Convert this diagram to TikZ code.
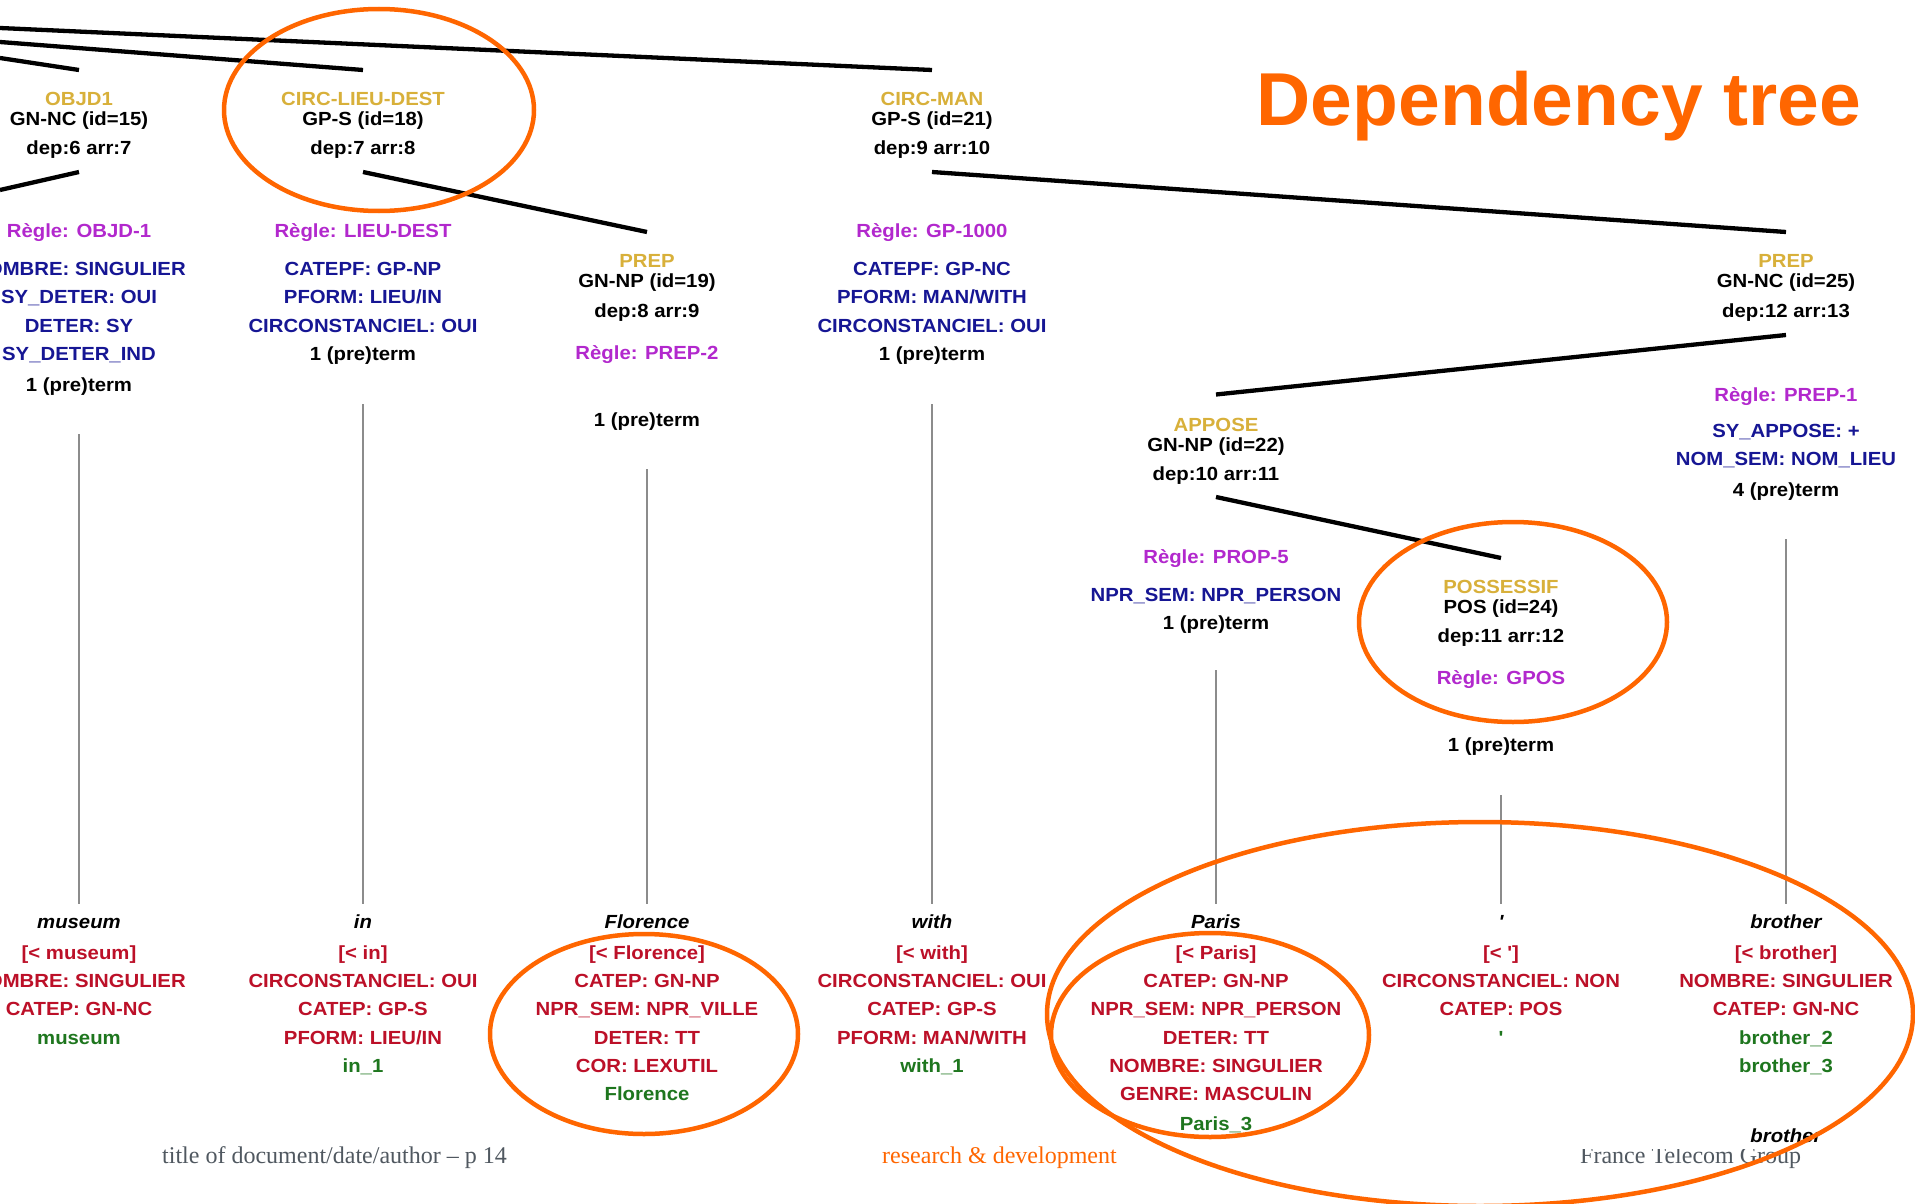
\documentclass[tikz,border=0pt]{standalone}
\usepackage{fontspec}
\newfontfamily\treefont[FakeStretch=1.07]{Liberation Sans}
\newfontfamily\titlefont{Liberation Sans}
\newfontfamily\footfont{Liberation Serif}
\definecolor{ylw}{RGB}{216,176,58}
\definecolor{mag}{RGB}{178,40,205}
\definecolor{blu}{RGB}{22,22,148}
\definecolor{redd}{RGB}{188,16,40}
\definecolor{grn}{RGB}{30,118,30}
\definecolor{orng}{RGB}{255,102,0}
\definecolor{gline}{RGB}{140,140,140}
\definecolor{footgray}{RGB}{80,88,96}
\tikzset{
  sTx/.style={inner sep=0pt, text height=13.6pt, text depth=0pt,
    font=\treefont\bfseries\fontsize{19}{23}\selectfont},
  sLab/.style={sTx, text=ylw},
  sCat/.style={sTx, text=black},
  sRul/.style={sTx, text=mag},
  sAtt/.style={sTx, text=blu},
  sWrd/.style={sTx, text=black, font=\treefont\bfseries\itshape\fontsize{19}{23}\selectfont},
  sLex/.style={sTx, text=redd},
  sGrn/.style={sTx, text=grn},
  sEdge/.style={line width=4.3pt, draw=black},
  sStem/.style={line width=1.4pt, draw=gline},
  sRing/.style={draw=orng, line width=4.5pt},
  sFoot/.style={anchor=base west, inner sep=0pt, font=\footfont\fontsize{24}{28}\selectfont},
}
\begin{document}
\begin{tikzpicture}[x=1pt,y=-1pt]
\useasboundingbox (0,0) rectangle (1915,1204);
\fill[white] (0,0) rectangle (1915,1204);
\clip (0,0) rectangle (1915,1204);

% title
\node[anchor=base, inner sep=0pt, text=orng, font=\titlefont\bfseries\fontsize{75}{80}\selectfont] (title) at (1559,126) {Dependency tree};

% footer
\node[sFoot, text=footgray] (foot1) at (162,1163) {title of document/date/author \textendash{} p 14};
\node[sFoot, text=orng] (foot2) at (882,1163) {research \& development};
\node[sFoot, text=footgray] (foot3) at (1580,1163) {France Telecom Group};
\fill[white] (1560,1120) rectangle (1915,1149);

% edge end points
\coordinate (L1) at (0,28);
\coordinate (L2) at (0,42);
\coordinate (L3) at (0,58);
\coordinate (L4) at (0,190);
\coordinate (t1) at (79,70);   \coordinate (u1) at (79,172);
\coordinate (t2) at (363,70);  \coordinate (u2) at (363,172);
\coordinate (t3) at (647,232);
\coordinate (t4) at (932,70);  \coordinate (u4) at (932,172);
\coordinate (t5) at (1216,394.5); \coordinate (u5) at (1216,497);
\coordinate (t6) at (1501,558);
\coordinate (t7) at (1786,232); \coordinate (u7) at (1786,335);

\draw[sEdge] (L1) -- (t4);
\draw[sEdge] (L2) -- (t2);
\draw[sEdge] (L3) -- (t1);
\draw[sEdge] (u1) -- (L4);
\draw[sEdge] (u2) -- (t3);
\draw[sEdge] (u4) -- (t7);
\draw[sEdge] (u7) -- (t5);
\draw[sEdge] (u5) -- (t6);

% stems
\coordinate (s1) at (79,434);   \coordinate (w1) at (79,904);
\coordinate (s2) at (363,404);  \coordinate (w2) at (363,904);
\coordinate (s3) at (647,469);  \coordinate (w3) at (647,904);
\coordinate (s4) at (932,404);  \coordinate (w4) at (932,904);
\coordinate (s5) at (1216,670); \coordinate (w5) at (1216,904);
\coordinate (s6) at (1501,795); \coordinate (w6) at (1501,904);
\coordinate (s7) at (1786,539); \coordinate (w7) at (1786,904);
\foreach \i in {1,...,7} \draw[sStem] (s\i) -- (w\i);

% column 1
\node[sLab] (a1) at (79,99) {OBJD1};
\node[sCat] (a2) at (79,118.5) {GN-NC (id=15)};
\node[sCat] (a3) at (79,148) {dep:6 arr:7};
\node[sRul] (a4) at (79,231) {Règle: OBJD-1};
\node[sAtt] (a5) at (79,269) {NOMBRE: SINGULIER};
\node[sAtt] (a6) at (79,297) {SY\_DETER: OUI};
\node[sAtt] (a7) at (79,326) {DETER: SY};
\node[sAtt] (a8) at (79,354) {SY\_DETER\_IND};
\node[sCat] (a9) at (79,385) {1 (pre)term};
\node[sWrd] (a10) at (79,922) {museum};
\node[sLex] (a11) at (79,953) {[< museum]};
\node[sLex] (a12) at (79,981) {NOMBRE: SINGULIER};
\node[sLex] (a13) at (79,1009) {CATEP: GN-NC};
\node[sGrn] (a14) at (79,1038) {museum};

% column 2
\node[sLab] (b1) at (363,99) {CIRC-LIEU-DEST};
\node[sCat] (b2) at (363,118.5) {GP-S (id=18)};
\node[sCat] (b3) at (363,148) {dep:7 arr:8};
\node[sRul] (b4) at (363,231) {Règle: LIEU-DEST};
\node[sAtt] (b5) at (363,269) {CATEPF: GP-NP};
\node[sAtt] (b6) at (363,297) {PFORM: LIEU/IN};
\node[sAtt] (b7) at (363,326) {CIRCONSTANCIEL: OUI};
\node[sCat] (b8) at (363,354) {1 (pre)term};
\node[sWrd] (b9) at (363,922) {in};
\node[sLex] (b10) at (363,953) {[< in]};
\node[sLex] (b11) at (363,981) {CIRCONSTANCIEL: OUI};
\node[sLex] (b12) at (363,1009) {CATEP: GP-S};
\node[sLex] (b13) at (363,1038) {PFORM: LIEU/IN};
\node[sGrn] (b14) at (363,1066) {in\_1};

% column 3
\node[sLab] (c1) at (647,261) {PREP};
\node[sCat] (c2) at (647,281) {GN-NP (id=19)};
\node[sCat] (c3) at (647,311) {dep:8 arr:9};
\node[sRul] (c4) at (647,353) {Règle: PREP-2};
\node[sCat] (c5) at (647,420) {1 (pre)term};
\node[sWrd] (c6) at (647,922) {Florence};
\node[sLex] (c7) at (647,953) {[< Florence]};
\node[sLex] (c8) at (647,981) {CATEP: GN-NP};
\node[sLex] (c9) at (647,1009) {NPR\_SEM: NPR\_VILLE};
\node[sLex] (c10) at (647,1038) {DETER: TT};
\node[sLex] (c11) at (647,1066) {COR: LEXUTIL};
\node[sGrn] (c12) at (647,1094) {Florence};

% column 4
\node[sLab] (d1) at (932,99) {CIRC-MAN};
\node[sCat] (d2) at (932,118.5) {GP-S (id=21)};
\node[sCat] (d3) at (932,148) {dep:9 arr:10};
\node[sRul] (d4) at (932,231) {Règle: GP-1000};
\node[sAtt] (d5) at (932,269) {CATEPF: GP-NC};
\node[sAtt] (d6) at (932,297) {PFORM: MAN/WITH};
\node[sAtt] (d7) at (932,326) {CIRCONSTANCIEL: OUI};
\node[sCat] (d8) at (932,354) {1 (pre)term};
\node[sWrd] (d9) at (932,922) {with};
\node[sLex] (d10) at (932,953) {[< with]};
\node[sLex] (d11) at (932,981) {CIRCONSTANCIEL: OUI};
\node[sLex] (d12) at (932,1009) {CATEP: GP-S};
\node[sLex] (d13) at (932,1038) {PFORM: MAN/WITH};
\node[sGrn] (d14) at (932,1066) {with\_1};

% column 5
\node[sLab] (e1) at (1216,425) {APPOSE};
\node[sCat] (e2) at (1216,444.5) {GN-NP (id=22)};
\node[sCat] (e3) at (1216,474) {dep:10 arr:11};
\node[sRul] (e4) at (1216,557) {Règle: PROP-5};
\node[sAtt] (e5) at (1216,595) {NPR\_SEM: NPR\_PERSON};
\node[sCat] (e6) at (1216,623) {1 (pre)term};
\node[sWrd] (e7) at (1216,922) {Paris};
\node[sLex] (e8) at (1216,953) {[< Paris]};
\node[sLex] (e9) at (1216,981) {CATEP: GN-NP};
\node[sLex] (e10) at (1216,1009) {NPR\_SEM: NPR\_PERSON};
\node[sLex] (e11) at (1216,1038) {DETER: TT};
\node[sLex] (e12) at (1216,1066) {NOMBRE: SINGULIER};
\node[sLex] (e13) at (1216,1094) {GENRE: MASCULIN};
\node[sGrn] (e14) at (1216,1124) {Paris\_3};

% column 6
\node[sLab] (f1) at (1501,587) {POSSESSIF};
\node[sCat] (f2) at (1501,607) {POS (id=24)};
\node[sCat] (f3) at (1501,636) {dep:11 arr:12};
\node[sRul] (f4) at (1501,678) {Règle: GPOS};
\node[sCat] (f5) at (1501,745) {1 (pre)term};
\node[sWrd] (f6) at (1501,922) {'};
\node[sLex] (f7) at (1501,953) {[< ']};
\node[sLex] (f8) at (1501,981) {CIRCONSTANCIEL: NON};
\node[sLex] (f9) at (1501,1009) {CATEP: POS};
\node[sGrn] (f10) at (1501,1038) {'};

% column 7
\node[sLab] (g1) at (1786,261) {PREP};
\node[sCat] (g2) at (1786,281) {GN-NC (id=25)};
\node[sCat] (g3) at (1786,311) {dep:12 arr:13};
\node[sRul] (g4) at (1786,394.5) {Règle: PREP-1};
\node[sAtt] (g5) at (1786,431) {SY\_APPOSE: +};
\node[sAtt] (g6) at (1786,459) {NOM\_SEM: NOM\_LIEU};
\node[sCat] (g7) at (1786,490) {4 (pre)term};
\node[sWrd] (g8) at (1786,922) {brother};
\node[sLex] (g9) at (1786,953) {[< brother]};
\node[sLex] (g10) at (1786,981) {NOMBRE: SINGULIER};
\node[sLex] (g11) at (1786,1009) {CATEP: GN-NC};
\node[sGrn] (g12) at (1786,1038) {brother\_2};
\node[sGrn] (g13) at (1786,1066) {brother\_3};
\node[sWrd, fill=white, inner xsep=3pt] (g14) at (1786,1136) {brother};

% orange highlight rings
\draw[sRing] (379,110) ellipse [x radius=155, y radius=101];
\draw[sRing] (1513,622) ellipse [x radius=154, y radius=100];
\draw[sRing] (644,1034) ellipse [x radius=154, y radius=100];
\draw[sRing] (1210,1035) ellipse [x radius=159, y radius=102];
\draw[sRing] (1480,1014) ellipse [x radius=433, y radius=192];
\end{tikzpicture}
\end{document}
